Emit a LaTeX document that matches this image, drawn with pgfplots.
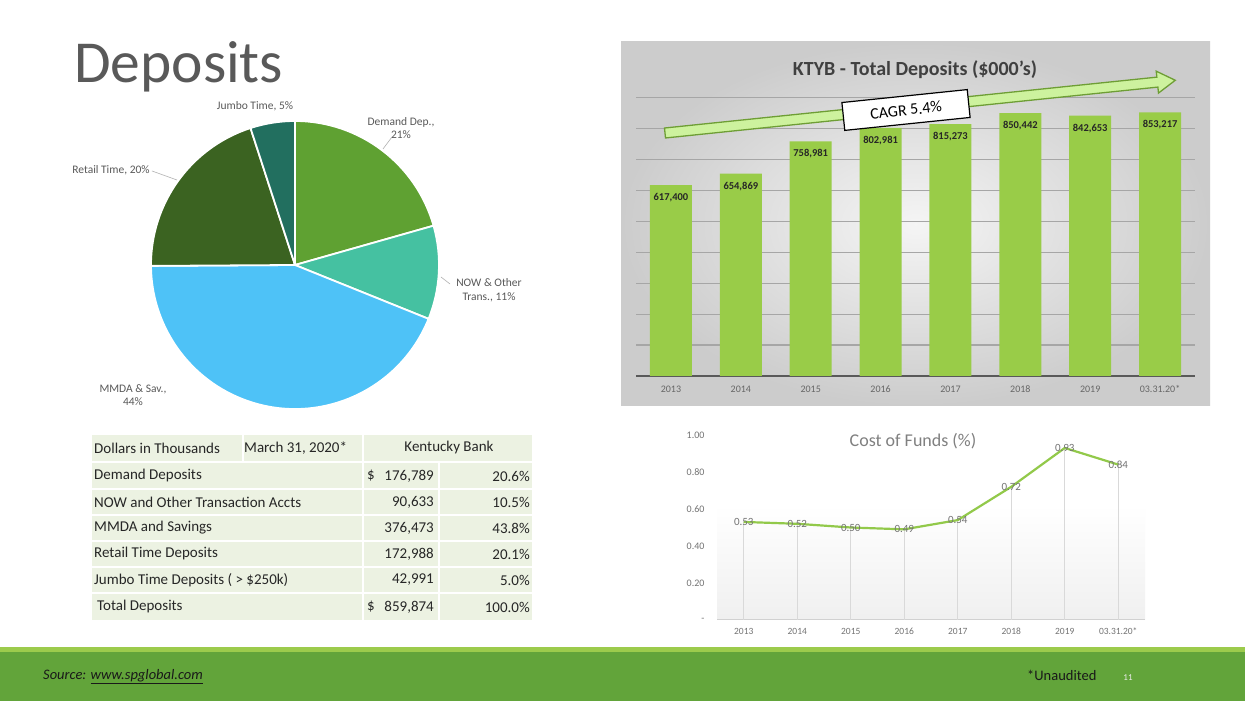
\documentclass[border=0pt]{standalone}
\usepackage{fontspec}
\setmainfont{Carlito}
\usepackage{pgfplots}
\pgfplotsset{compat=1.18}
\usepackage{pgfplotstable}
\usetikzlibrary{shadings}

\definecolor{cDemand}{HTML}{5FA132}
\definecolor{cNow}{HTML}{45C1A1}
\definecolor{cMmda}{HTML}{4EC2F7}
\definecolor{cRetail}{HTML}{3B6321}
\definecolor{cJumbo}{HTML}{226F5F}
\definecolor{cBar}{HTML}{99CC48}
\definecolor{cLine}{HTML}{92C94A}
\definecolor{cTable}{HTML}{ECF2E2}
\definecolor{cFoot}{HTML}{62A43A}
\definecolor{cFootTop}{HTML}{9CCB4C}
\definecolor{cTitle}{HTML}{595959}
\definecolor{cTxt}{HTML}{262626}
\definecolor{cArrow}{HTML}{CDF29E}
\definecolor{cArrowB}{HTML}{6E9E35}
\definecolor{cAxis}{HTML}{595959}

\pgfplotstableread{
x y label
0 617400 617,400
1 654869 654,869
2 758981 758,981
3 802981 802,981
4 815273 815,273
5 850442 850,442
6 842653 842,653
7 853217 853,217
}\depositdata

\pgfplotstableread{
x y
0 0.53
1 0.52
2 0.50
3 0.49
4 0.54
5 0.72
6 0.93
7 0.84
}\costdata

\newcommand{\fs}[1]{\fontsize{#1}{#1}\selectfont}

\begin{document}
\begin{tikzpicture}[x=1pt,y=1pt]
\useasboundingbox (0,0) rectangle (1245,701);
\fill[white] (0,0) rectangle (1245,701);

% ---------- Title ----------
\node[anchor=base west, font=\fs{59.5}, text=cTitle, inner sep=0] at (74,618) {Deposits};

% ---------- Pie ----------
\foreach \v/\c [remember=\e as \s (initially 90), evaluate=\v as \e using {\s-3.6*\v}] in {20.6/cDemand,10.5/cNow,43.8/cMmda,20.1/cRetail,5.0/cJumbo}
  \filldraw[fill=\c, draw=white, line width=1.8pt, line join=round] (295,436) -- ++(\s:144pt) arc[start angle=\s, end angle=\e, radius=144pt] -- cycle;

\begin{scope}[every node/.style={font=\fs{11.5}, text=cTitle, inner sep=0, align=center}]
\node at (255,595) {Jumbo Time, 5\%};
\node at (401,573) {Demand Dep.,\\[2pt]21\%};
\node at (489,411) {NOW \& Other\\[2pt]Trans., 11\%};
\node at (133,306) {MMDA \& Sav.,\\[2pt]44\%};
\node at (111,531) {Retail Time, 20\%};
\end{scope}
\draw[gray!60, line width=0.6pt] (152,530) -- (177,521);
\draw[gray!60, line width=0.6pt] (392,564) -- (383,552);
\draw[gray!60, line width=0.6pt] (450,417) -- (441,424);

% ---------- Table ----------
\fill[cTable] (92,81) rectangle (532,266);
\begin{scope}[white, line width=1.6pt]
\foreach \yy in {239,212,186,160,134,108} \draw (92,\yy) -- (532,\yy);
\draw (243,239) -- (243,266);
\draw (363,81) -- (363,266);
\draw (439,81) -- (439,239);
\end{scope}
\begin{scope}[every node/.style={font=\fs{15}, text=cTxt, inner sep=0}]
\node[anchor=west] at (94,253) {Dollars in Thousands};
\node[anchor=west] at (244,253) {March 31, 2020*};
\node at (449,253) {Kentucky Bank};
\node[anchor=west] at (94,225) {Demand Deposits};
\node[anchor=west] at (94,199) {NOW and Other Transaction Accts};
\node[anchor=west] at (94,173) {MMDA and Savings};
\node[anchor=west] at (94,147) {Retail Time Deposits};
\node[anchor=west] at (94,121) {Jumbo Time Deposits ( > \$250k)};
\node[anchor=west] at (97,94) {Total Deposits};
\node[anchor=west] at (367,225) {\$};
\node[anchor=west] at (367,94) {\$};
\node[anchor=east] at (434,225) {176,789};
\node[anchor=east] at (434,199) {90,633};
\node[anchor=east] at (434,173) {376,473};
\node[anchor=east] at (434,147) {172,988};
\node[anchor=east] at (434,121) {42,991};
\node[anchor=east] at (434,94) {859,874};
\node[anchor=east] at (530,225) {20.6\%};
\node[anchor=east] at (530,199) {10.5\%};
\node[anchor=east] at (530,173) {43.8\%};
\node[anchor=east] at (530,147) {20.1\%};
\node[anchor=east] at (530,121) {5.0\%};
\node[anchor=east] at (530,94) {100.0\%};
\end{scope}

% ---------- Bar chart panel ----------
\shade[inner color=white!96!black, outer color=white!80!black] (621,295) rectangle (1210,659);
\node[font=\bfseries\fs{20}, text=black!75] at (915,631) {KTYB - Total Deposits (\$000's)};

\begin{axis}[
  at={(636pt,325pt)}, anchor=south west, scale only axis,
  width=559pt, height=309pt,
  xmin=-0.5, xmax=7.5, ymin=0, ymax=1000000,
  axis lines*=left,
  y axis line style={draw=none},
  x axis line style={draw=cAxis, line width=2.5pt},
  ytick={100000,200000,300000,400000,500000,600000,700000,800000,900000},
  yticklabels={},
  scaled y ticks=false,
  ymajorgrids, grid style={draw=black!35, line width=1.2pt},
  major tick length=0pt,
  xtick={0,...,7},
  xticklabels={2013,2014,2015,2016,2017,2018,2019,03.31.20*},
  xticklabel style={font=\fs{10}, text=black!60, text height=7pt, text depth=1pt, yshift=-6pt},
  ybar, bar width=42pt,
  nodes near coords, point meta=explicit symbolic,
  nodes near coords style={anchor=north, yshift=-8pt, font=\bfseries\fs{10.5}, text=black!85, inner sep=0pt},
  clip=false,
]
\addplot[fill=cBar, draw=none] table[x=x, y=y, meta=label] {\depositdata};
\end{axis}

% arrow and CAGR box
\begin{scope}[shift={(665,568)}, rotate=5.9]
\filldraw[draw=cArrowB, line width=1.3pt, fill=cArrow, line join=miter] (0,-5) -- (495,-5) -- (495,-11) -- (513,0) -- (495,11) -- (495,5) -- (0,5) -- cycle;
\end{scope}
\node[draw=black, line width=1.2pt, fill=white, rotate=5.9, minimum width=126pt, minimum height=28pt, font=\fs{16}, text=black] at (906,591) {CAGR 5.4\%};

% ---------- Line chart ----------
\shade[top color=white, bottom color=black!6] (717,81) rectangle (1145,196);
\node[font=\fs{18}, text=black!50] at (913,260) {Cost of Funds (\%)};
\begin{axis}[
  at={(717pt,81pt)}, anchor=south west, scale only axis,
  width=428pt, height=185pt,
  xmin=-0.5, xmax=7.5, ymin=0, ymax=1,
  axis lines*=left,
  y axis line style={draw=none},
  x axis line style={draw=black!18, line width=1pt},
  major tick length=0pt,
  xtick={0,...,7},
  xticklabels={2013,2014,2015,2016,2017,2018,2019,03.31.20*},
  ytick={0,0.2,0.4,0.6,0.8,1.0},
  yticklabels={-,0.20,0.40,0.60,0.80,1.00},
  xticklabel style={font=\fs{9.5}, text=black!55, text height=7pt, text depth=1pt, yshift=-4pt},
  yticklabel style={font=\fs{10}, text=black!55, xshift=-9pt},
  clip=false,
  /pgf/number format/fixed,
  /pgf/number format/fixed zerofill,
  /pgf/number format/precision=2,
  /pgf/number format/assume math mode=true,
]
\addplot[ycomb, draw=black!15, line width=0.8pt, no marks] table[x=x, y=y] {\costdata};
\addplot[cLine, line width=2.2pt, no marks, nodes near coords, point meta=y,
  nodes near coords align=center,
  nodes near coords style={anchor=center, font=\fs{11}, text=black!55, inner sep=0pt}]
  table[x=x, y=y] {\costdata};
\end{axis}

% ---------- Footer ----------
\fill[cFoot] (0,0) rectangle (1245,49);
\fill[cFootTop] (0,49) rectangle (1245,54);
\node[anchor=west, font=\itshape\fs{14.5}, text=black!90, inner sep=0] at (43,24) {Source: \underline{www.spglobal.com}};
\node[anchor=west, font=\fs{14.5}, text=black!90, inner sep=0] at (1027,26) {*Unaudited};
\node[font=\fs{9}, text=white!85!gray] at (1128,23) {11};
\end{tikzpicture}
\end{document}
